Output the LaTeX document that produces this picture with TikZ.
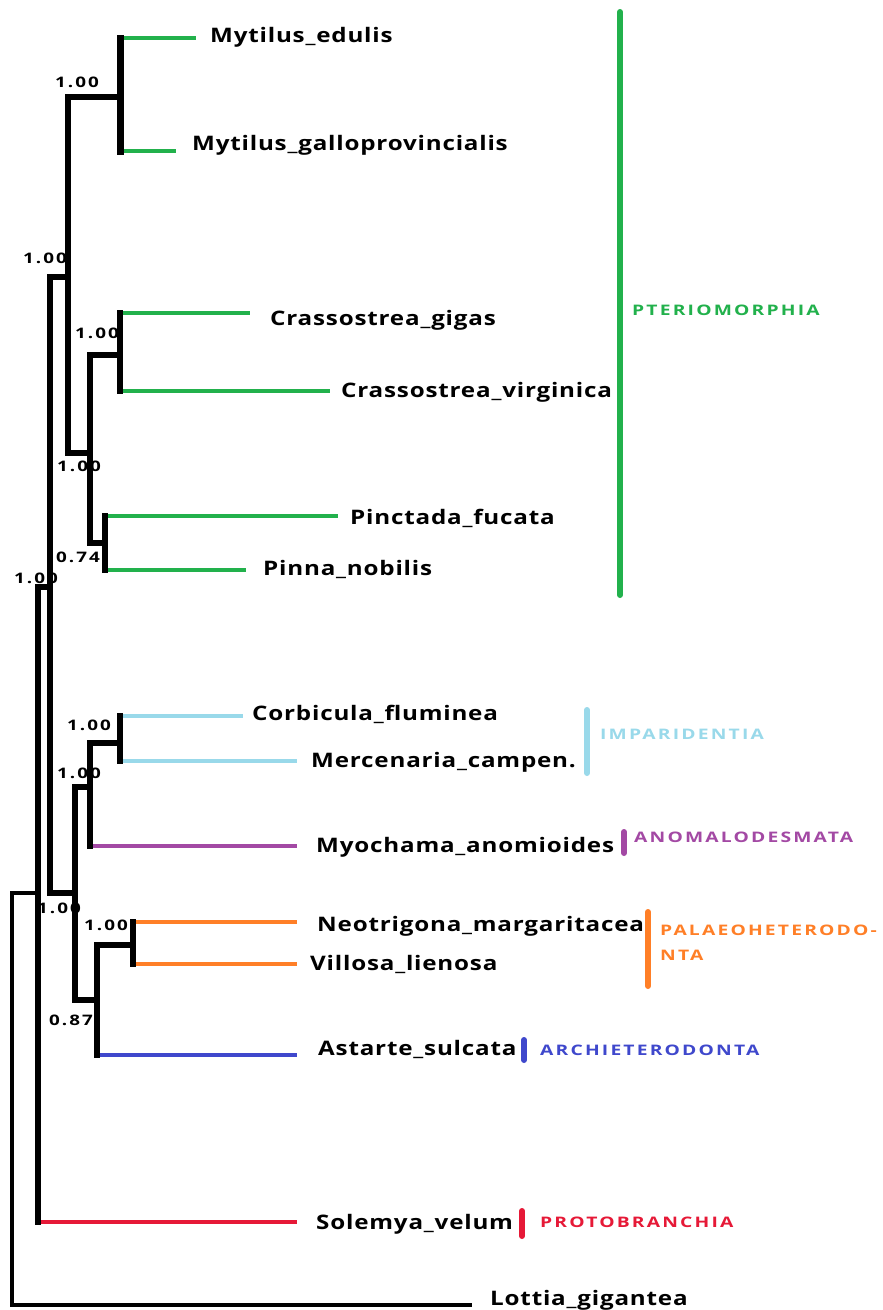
\documentclass[tikz,border=0pt]{standalone}
\usepackage{fontspec}
\setmainfont{Open Sans}
\newfontfamily\tipfont{Open Sans}[FakeStretch=1.21,LetterSpace=4]
\newfontfamily\cladefont{Open Sans}[FakeStretch=1.33,LetterSpace=15]
\newfontfamily\supfont{Open Sans}[FakeStretch=1.3,LetterSpace=14]
\definecolor{cgreen}{RGB}{34,177,76}
\definecolor{cltblue}{RGB}{153,217,234}
\definecolor{cpurple}{RGB}{163,73,164}
\definecolor{corange}{RGB}{255,127,39}
\definecolor{cblue}{RGB}{63,72,204}
\definecolor{cred}{RGB}{230,25,55}
\begin{document}
\begin{tikzpicture}[x=1pt,y=-1pt,
  blk/.style={draw=black,line width=5.5pt,line cap=rect},
  rootline/.style={draw=black,line width=3.5pt,line cap=rect},
  tipline/.style={line width=4pt},
  tip/.style={anchor=base west,inner sep=0pt,font=\tipfont\bfseries\fontsize{20}{24}\selectfont},
  sup/.style={inner sep=0pt,font=\supfont\bfseries\fontsize{14.5}{16}\selectfont},
  clade/.style={anchor=base west,inner sep=0pt,font=\cladefont\bfseries\fontsize{14.5}{16}\selectfont},
  cbar/.style={line width=6pt,line cap=round}]
\useasboundingbox[fill=white] (0,0) rectangle (883,1310);

% internal node coordinates (vertical bar x, midpoint y)
\coordinate (R)   at (12,1099);
\coordinate (A)   at (38,893);
\coordinate (B)   at (50,587);
\coordinate (P)   at (68,277);
\coordinate (Myt) at (120,97);
\coordinate (C)   at (90,453);
\coordinate (Cra) at (120,355);
\coordinate (Pin) at (105,543);
\coordinate (H)   at (75,893);
\coordinate (I)   at (90,787);
\coordinate (Imp) at (120,743);
\coordinate (J)   at (97,1000);
\coordinate (Pal) at (133,945);

% tip ends
\coordinate (tME) at (196,38);
\coordinate (tMG) at (176,151);
\coordinate (tCG) at (250,313);
\coordinate (tCV) at (330,391);
\coordinate (tPF) at (338,516);
\coordinate (tPN) at (246,570);
\coordinate (tCF) at (243,716);
\coordinate (tMC) at (297,761);
\coordinate (tMA) at (297,846);
\coordinate (tNM) at (297,922);
\coordinate (tVL) at (297,964);
\coordinate (tAS) at (297,1055);
\coordinate (tSV) at (297,1222);
\coordinate (tLG) at (470,1305);

% support values
\node[sup] (s1) at (77,82) {1.00};
\node[sup] (s2) at (45,258) {1.00};
\node[sup] (s3) at (97,333) {1.00};
\node[sup] (s4) at (79,466) {1.00};
\node[sup] (s5) at (78,557) {0.74};
\node[sup] (s6) at (36,578) {1.00};
\node[sup] (s7) at (89,725) {1.00};
\node[sup] (s8) at (79,773) {1.00};
\node[sup] (s9) at (59,908) {1.00};
\node[sup] (s10) at (106,925) {1.00};
\node[sup] (s11) at (71,1020) {0.87};

% coloured tip branches
\draw[tipline,cgreen] (Myt |- tME) -- (tME);
\draw[tipline,cgreen] (Myt |- tMG) -- (tMG);
\draw[tipline,cgreen] (Cra |- tCG) -- (tCG);
\draw[tipline,cgreen] (Cra |- tCV) -- (tCV);
\draw[tipline,cgreen] (Pin |- tPF) -- (tPF);
\draw[tipline,cgreen] (Pin |- tPN) -- (tPN);
\draw[tipline,cltblue] (Imp |- tCF) -- (tCF);
\draw[tipline,cltblue] (Imp |- tMC) -- (tMC);
\draw[tipline,cpurple] (I |- tMA) -- (tMA);
\draw[tipline,corange] (Pal |- tNM) -- (tNM);
\draw[tipline,corange] (Pal |- tVL) -- (tVL);
\draw[tipline,cblue] (J |- tAS) -- (tAS);
\draw[tipline,cred] (A |- tSV) -- (tSV);

% black internal structure
\draw[blk,line width=7pt] (Myt) -- (Myt |- tME) (Myt) -- (Myt |- tMG);
\draw[blk] (Cra) -- (Cra |- tCG) (Cra) -- (Cra |- tCV);
\draw[blk] (Pin) -- (Pin |- tPF) (Pin) -- (Pin |- tPN);
\draw[blk] (Imp) -- (Imp |- tCF) (Imp) -- (Imp |- tMC);
\draw[blk] (I) -- (I |- tMA);
\draw[blk] (Pal) -- (Pal |- tNM) (Pal) -- (Pal |- tVL);
\draw[blk] (J) -- (J |- tAS);
\draw[blk] (A) -- (A |- tSV);
\draw[blk] (C) |- (Cra);
\draw[blk] (C) |- (Pin);
\draw[blk] (P) |- (Myt);
\draw[blk] (P) |- (C);
\draw[blk] (I) |- (Imp);
\draw[blk] (J) |- (Pal);
\draw[blk] (H) |- (I);
\draw[blk] (H) |- (J);
\draw[blk] (B) |- (P);
\draw[blk] (B) |- (H);
\draw[blk] (A) |- (B);
\draw[rootline] (R) |- (A);
\draw[rootline] (R) |- (tLG);

% tip labels
\node[tip] (lME) at (210,42) {Mytilus\_edulis};
\node[tip] (lMG) at (192,150) {Mytilus\_galloprovincialis};
\node[tip] (lCG) at (270,325) {Crassostrea\_gigas};
\node[tip] (lCV) at (341,397) {Crassostrea\_virginica};
\node[tip] (lPF) at (350,524) {Pinctada\_fucata};
\node[tip] (lPN) at (263,575) {Pinna\_nobilis};
\node[tip] (lCF) at (252,720) {Corbicula\_fluminea};
\node[tip] (lMC) at (311,767) {Mercenaria\_campen.};
\node[tip] (lMA) at (316,852) {Myochama\_anomioides};
\node[tip] (lNM) at (317,931) {Neotrigona\_margaritacea};
\node[tip] (lVL) at (310,970) {Villosa\_lienosa};
\node[tip] (lAS) at (318,1055) {Astarte\_sulcata};
\node[tip] (lSV) at (316,1229) {Solemya\_velum};
\node[tip] (lLG) at (490,1305) {Lottia\_gigantea};

% clade bars and names
\coordinate (b1a) at (620,12);  \coordinate (b1b) at (620,595);
\coordinate (b2a) at (587,710); \coordinate (b2b) at (587,773);
\coordinate (b3a) at (624,832); \coordinate (b3b) at (624,853);
\coordinate (b4a) at (648,912); \coordinate (b4b) at (648,986);
\coordinate (b5a) at (524,1040);\coordinate (b5b) at (524,1060);
\coordinate (b6a) at (522,1211);\coordinate (b6b) at (522,1236);
\draw[cbar,cgreen] (b1a) -- (b1b);
\draw[cbar,cltblue] (b2a) -- (b2b);
\draw[cbar,cpurple] (b3a) -- (b3b);
\draw[cbar,corange] (b4a) -- (b4b);
\draw[cbar,cblue] (b5a) -- (b5b);
\draw[cbar,cred] (b6a) -- (b6b);
\node[clade,text=cgreen] (c1) at (632,315) {PTERIOMORPHIA};
\node[clade,text=cltblue] (c2) at (600,739) {IMPARIDENTIA};
\node[clade,text=cpurple] (c3) at (634,842) {ANOMALODESMATA};
\node[clade,text=corange] (c4a) at (660,935) {PALAEOHETERODO-};
\node[clade,text=corange] (c4b) at (660,960) {NTA};
\node[clade,text=cblue] (c5) at (540,1055) {ARCHIETERODONTA};
\node[clade,text=cred] (c6) at (540,1227) {PROTOBRANCHIA};
\end{tikzpicture}
\end{document}
